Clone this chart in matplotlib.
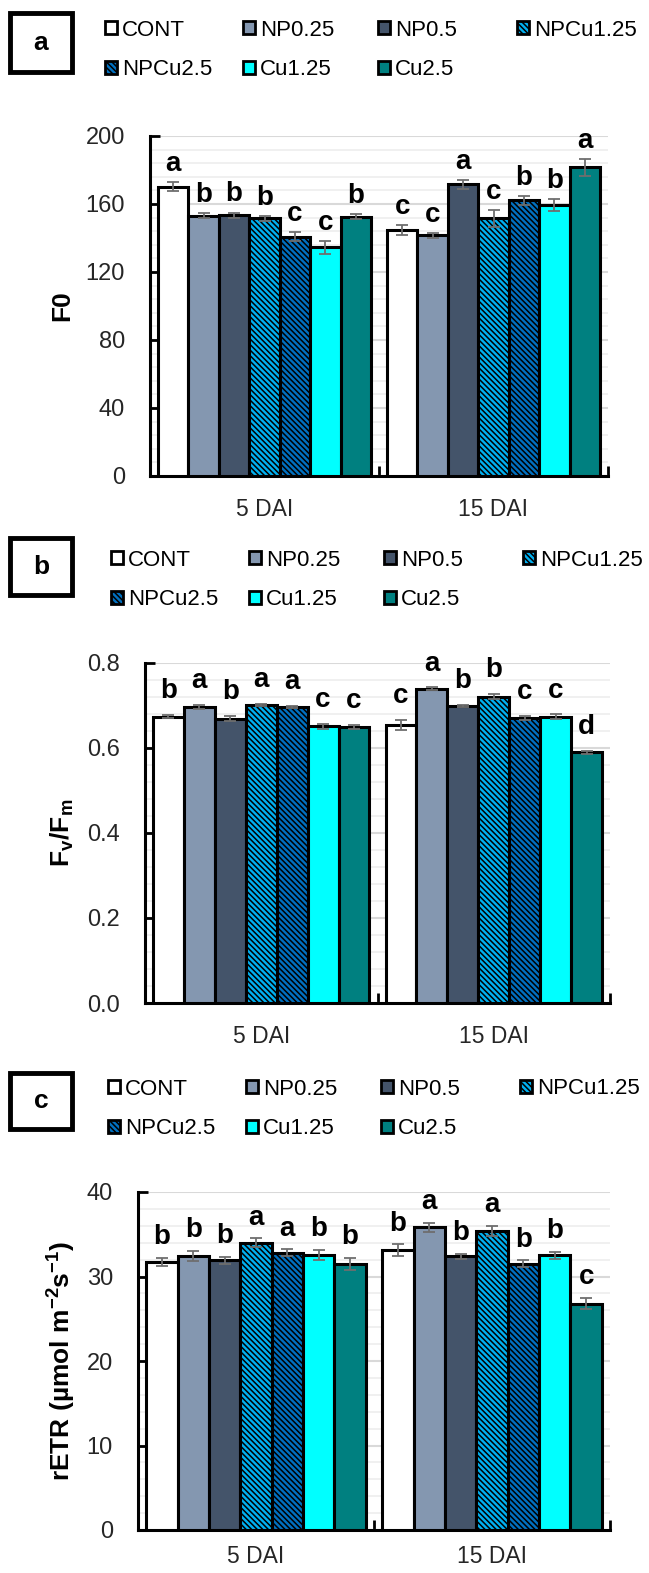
import numpy as np
import matplotlib
matplotlib.use('Agg')
import matplotlib.pyplot as plt
from matplotlib.patches import Patch, Rectangle
from matplotlib.ticker import MultipleLocator, FixedLocator, FormatStrFormatter

plt.rcParams['font.family'] = ['Liberation Sans', 'DejaVu Sans']
plt.rcParams['mathtext.fontset'] = 'custom'
plt.rcParams['mathtext.rm'] = 'Liberation Sans'
plt.rcParams['mathtext.bf'] = 'Liberation Sans:bold'
plt.rcParams['mathtext.it'] = 'Liberation Sans:italic'
plt.rcParams['hatch.linewidth'] = 1.1

days = ['5 DAI', '15 DAI']
treatments = ['CONT', 'NP0.25', 'NP0.5', 'NPCu1.25', 'NPCu2.5', 'Cu1.25', 'Cu2.5']
colors = ['#ffffff', '#8497b0', '#44546a', '#00b0f0', '#0070c0', '#00ffff', '#008080']
hatches = ['', '', '', '\\' * 6, '\\' * 6, '', '']

# rows = days, columns = treatments
f0_mean = [[170.2, 153.2, 153.5, 151.6, 140.8, 134.5, 152.5],
           [144.7, 141.5, 171.6, 151.6, 162.2, 159.2, 181.6]]
f0_err = [[2.7, 1.5, 1.5, 1.5, 2.5, 3.9, 1.5],
          [2.7, 1.5, 2.5, 4.9, 2.5, 3.5, 5.0]]
f0_letters = [['a', 'b', 'b', 'b', 'c', 'c', 'b'],
              ['c', 'c', 'a', 'c', 'b', 'b', 'a']]

fvfm_mean = [[0.674, 0.697, 0.669, 0.701, 0.697, 0.651, 0.650],
             [0.655, 0.740, 0.699, 0.721, 0.670, 0.674, 0.590]]
fvfm_err = [[0.004, 0.005, 0.006, 0.003, 0.003, 0.006, 0.005],
            [0.012, 0.003, 0.003, 0.006, 0.005, 0.005, 0.004]]
fvfm_letters = [['b', 'a', 'b', 'a', 'a', 'c', 'c'],
                ['c', 'a', 'b', 'b', 'c', 'c', 'd']]

etr_mean = [[31.7, 32.4, 31.9, 34.0, 32.8, 32.5, 31.45],
            [33.1, 35.8, 32.4, 35.4, 31.5, 32.5, 26.8]]
etr_err = [[0.5, 0.6, 0.4, 0.5, 0.4, 0.6, 0.7],
           [0.7, 0.5, 0.3, 0.6, 0.4, 0.4, 0.7]]
etr_letters = [['b', 'b', 'b', 'a', 'a', 'b', 'b'],
               ['b', 'a', 'b', 'a', 'b', 'b', 'c']]

W, H = 649, 1573
fig = plt.figure(figsize=(W / 100, H / 100), dpi=100)

panels = [
    dict(tag='a', mean=f0_mean, err=f0_err, letters=f0_letters, ylabel='F0',
         ymax=200, major=40, minor=8, fmt='%d', box=(10, 13, 72, 72),
         leg=(105, 50), ax=(150, 136, 608, 476), off=8, xpad=16),
    dict(tag='b', mean=fvfm_mean, err=fvfm_err, letters=fvfm_letters,
         ylabel=r'$\mathbf{F_v/F_m}$',
         ymax=0.8, major=0.2, minor=0.04, fmt='%.1f', box=(10, 538, 72, 595),
         leg=(111, 580), ax=(145, 663, 610, 1003), off=12, xpad=16),
    dict(tag='c', mean=etr_mean, err=etr_err, letters=etr_letters,
         ylabel=r'rETR (µmol m$^{\mathbf{-2}}$s$^{\mathbf{-1}}$)',
         ymax=40, major=10, minor=2, fmt='%d', box=(10, 1073, 72, 1129),
         leg=(108, 1109), ax=(138, 1192, 610, 1530), off=10, xpad=11),
]

w = 0.133
x = np.arange(len(days))
col_shift = [0, 138, 273, 412]
columns = [[0, 4], [1, 5], [2, 6], [3]]

for p in panels:
    l, t, r, b = p['ax']
    ax = fig.add_axes([l / W, 1 - b / H, (r - l) / W, (b - t) / H])
    mean = np.array(p['mean'])
    err = np.array(p['err'])
    handles = []
    for i, name in enumerate(treatments):
        xs = x + (i - 3) * w
        ax.bar(xs, mean[:, i], w, yerr=err[:, i], color=colors[i],
               edgecolor='black', linewidth=2.2, hatch=hatches[i], zorder=3,
               error_kw=dict(ecolor='#6e6e6e', elinewidth=1.3, capsize=4,
                             capthick=1.3, zorder=4))
        for j in range(len(days)):
            ax.annotate(p['letters'][j][i], (xs[j], mean[j, i] + err[j, i]),
                        xytext=(0, p['off']), textcoords='offset points',
                        ha='center', va='baseline', fontsize=20,
                        fontweight='bold', zorder=5)
        handles.append(Patch(facecolor=colors[i], edgecolor='black',
                             linewidth=2, hatch=hatches[i], label=name))

    ax.set_xlim(-0.5, 1.5)
    ax.set_ylim(0, p['ymax'])
    ax.set_xticks(x)
    ax.set_xticklabels(days, fontsize=16.5, color='#262626')
    ax.tick_params(axis='x', which='major', length=0, pad=p['xpad'])
    ax.xaxis.set_minor_locator(FixedLocator([0.5, 1.5]))
    ax.tick_params(axis='x', which='minor', direction='in', length=7, width=2)
    ax.yaxis.set_major_locator(MultipleLocator(p['major']))
    ax.yaxis.set_minor_locator(MultipleLocator(p['minor']))
    ax.yaxis.set_major_formatter(FormatStrFormatter(p['fmt']))
    ax.tick_params(axis='y', which='major', direction='in', length=7, width=2,
                   labelsize=17, labelcolor='#262626', pad=18)
    ax.tick_params(axis='y', which='minor', length=0)
    ax.grid(axis='y', which='major', color='#d9d9d9', linewidth=1.5, zorder=0)
    ax.grid(axis='y', which='minor', color='#eeeeee', linewidth=1.2, zorder=0)
    ax.set_axisbelow(True)
    for s in ['top', 'right']:
        ax.spines[s].set_visible(False)
    for s in ['left', 'bottom']:
        ax.spines[s].set_linewidth(2.2)
    ax.set_ylabel(p['ylabel'], fontsize=19, fontweight='bold', va='center')
    ax.yaxis.set_label_coords((62 - l) / (r - l), 0.5)

    # one legend per column, columns evenly spaced as in the original
    for c, idx in enumerate(columns):
        cx = p['leg'][0] + col_shift[c]
        cy = p['leg'][1] if len(idx) == 2 else p['leg'][1] - 20
        fig.legend([handles[k] for k in idx], [treatments[k] for k in idx],
                   ncol=1, loc='center left', frameon=False, fontsize=16,
                   bbox_to_anchor=(cx / W, 1 - cy / H), borderpad=0,
                   borderaxespad=0, handlelength=0.55, handleheight=0.55,
                   handletextpad=0.2, labelspacing=0.85)

    bx0, by0, bx1, by1 = p['box']
    fig.add_artist(Rectangle((bx0 / W, 1 - by1 / H), (bx1 - bx0) / W,
                             (by1 - by0) / H, transform=fig.transFigure,
                             fill=False, edgecolor='black', linewidth=3.5))
    fig.text((bx0 + bx1) / 2 / W, 1 - (by0 + by1) / 2 / H, p['tag'],
             ha='center', va='center', fontsize=19, fontweight='bold')

fig.savefig('out.png', dpi=100)
